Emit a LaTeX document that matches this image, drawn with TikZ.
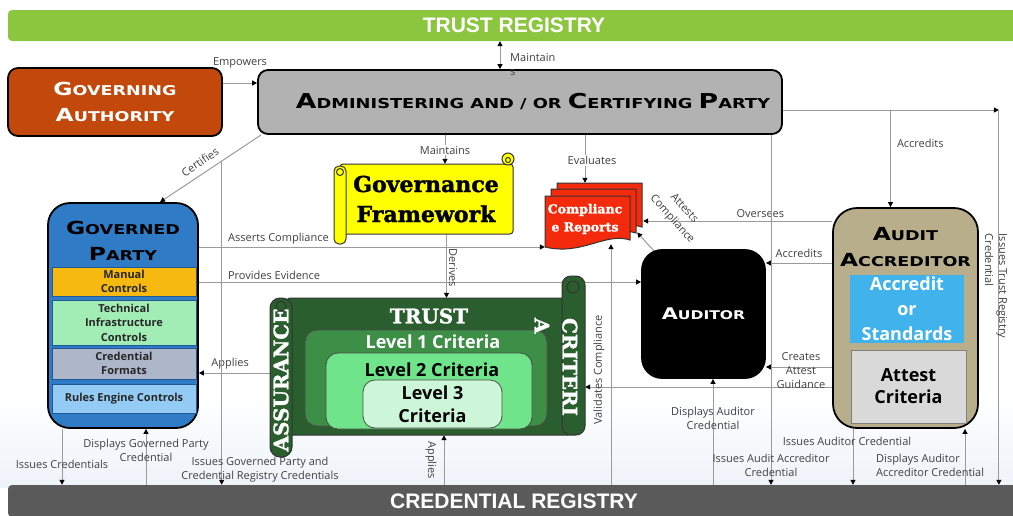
\documentclass[tikz,border=0pt]{standalone}
\usepackage{fontspec}
\setmainfont{Open Sans}
\newfontfamily\capsfont[FakeStretch=1.3]{DejaVu Sans}
\newfontfamily\heavyfont[BoldFeatures={FakeBold=1.5}]{DejaVu Serif}
\newfontfamily\barfont{Liberation Sans}
\usepackage{xcolor}
\definecolor{trustGreen}{HTML}{8CC63F}
\definecolor{credGray}{HTML}{5A5A5A}
\definecolor{govOrange}{HTML}{C2480B}
\definecolor{admGray}{HTML}{B2B2B2}
\definecolor{gpBlue}{HTML}{2F7BC5}
\definecolor{ctrlEdge}{HTML}{1F5A96}
\definecolor{manualYellow}{HTML}{F5B90F}
\definecolor{techGreen}{HTML}{A2EDB6}
\definecolor{formatGray}{HTML}{AEB6C9}
\definecolor{rulesBlue}{HTML}{93CBF4}
\definecolor{gfYellow}{HTML}{FFFF00}
\definecolor{crRed}{HTML}{F42A0C}
\definecolor{aaTan}{HTML}{B8AE8C}
\definecolor{acsBlue}{HTML}{40B3EC}
\definecolor{attGray}{HTML}{D9D9D9}
\definecolor{tfDark}{HTML}{2B5E2F}
\definecolor{lv1Green}{HTML}{3D8E47}
\definecolor{lv2Green}{HTML}{6FE48B}
\definecolor{lv3Green}{HTML}{CDF6D9}
\definecolor{lineGray}{HTML}{9A9A9A}
\definecolor{labelGray}{HTML}{404040}
\definecolor{bgBlue}{HTML}{EEF3F9}
\usepackage{tikz}
\usetikzlibrary{arrows.meta,backgrounds}
\newcommand{\bigini}[1]{{\fontsize{\inisize}{\inisize}\selectfont #1}}
\tikzset{
    bar/.style={
        rectangle,
        rounded corners=4pt,
        inner sep=0pt,
        text=white,
        font=\barfont\bfseries\fontsize{21pt}{21pt}\selectfont
    },
    titlebox/.style={
        draw=black,
        rectangle,
        rounded corners=10pt,
        line width=1.8pt,
        align=center,
        inner sep=0pt
    },
    bigsc/.style={
        align=center,
        font=\capsfont\bfseries\def\inisize{20.5pt}\fontsize{13.7pt}{16pt}\selectfont
    },
    midsc/.style={
        align=center,
        font=\capsfont\bfseries\def\inisize{18pt}\fontsize{13.5pt}{26pt}\selectfont
    },
    smallsc/.style={
        align=center,
        font=\capsfont\bfseries\def\inisize{16pt}\fontsize{12pt}{14pt}\selectfont
    },
    ctrl/.style={
        draw=ctrlEdge,
        rectangle,
        line width=0.8pt,
        minimum width=144pt,
        inner sep=0pt,
        align=center,
        text=black!85,
        font=\bfseries\fontsize{11pt}{14.5pt}\selectfont
    },
    lvbox/.style={
        draw=black!70,
        rectangle,
        rounded corners=12pt,
        line width=0.8pt,
        inner sep=0pt,
        align=center
    },
    lvtext/.style={
        align=center,
        font=\bfseries\fontsize{18pt}{23pt}\selectfont
    },
    heavy/.style={
        align=center,
        font=\heavyfont\bfseries\fontsize{20pt}{28pt}\selectfont
    },
    scrolledge/.style={
        draw=black!80,
        line width=1pt
    },
    inv/.style={
        rectangle,
        inner sep=0pt
    },
    conn/.style={
        ->,
        >={Triangle[length=5pt,width=5pt,color=black]},
        draw=lineGray,
        line width=1pt
    },
    lbl/.style={
        font=\fontsize{11pt}{14pt}\selectfont,
        text=labelGray,
        inner sep=1pt,
        align=center
    }
}

\begin{document}
\begin{tikzpicture}[x=1pt,y=-1pt]
    \useasboundingbox (0,0) rectangle (1013,515);

    % Registries
    \node[bar, fill=trustGreen, minimum width=1012pt, minimum height=31pt] (tr) at (514,25.5) {TRUST REGISTRY};
    \node[bar, fill=credGray, minimum width=1012pt, minimum height=32pt] (cred) at (514,501) {CREDENTIAL REGISTRY};

    % Authorities
    \node[titlebox, midsc, fill=govOrange, text=white, minimum width=214pt, minimum height=68pt] (gov) at (115,102) {\bigini{G}OVERNING\\\bigini{A}UTHORITY};
    \node[titlebox, bigsc, fill=admGray, minimum width=524pt, minimum height=64pt] (adm) at (520,102) {\hspace*{26pt}\bigini{A}DMINISTERING AND / OR \bigini{C}ERTIFYING \bigini{P}ARTY};

    % Governed party
    \node[titlebox, fill=gpBlue, rounded corners=22pt, minimum width=150pt, minimum height=225pt] (gp) at (123,315.5) {};
    \node[midsc] (gptitle) at (123,241) {\bigini{G}OVERNED\\\bigini{P}ARTY};
    \node[ctrl, fill=manualYellow, minimum height=29pt] (manual) at (124,281.5) {Manual\\Controls};
    \node[ctrl, fill=techGreen, minimum height=45pt] (tech) at (124,322.5) {Technical\\Infrastructure\\Controls};
    \node[ctrl, fill=formatGray, minimum height=31pt] (formats) at (124,363.5) {Credential\\Formats};
    \node[ctrl, fill=rulesBlue, minimum height=29pt] (rules) at (124,398.5) {Rules Engine Controls};

    % Governance framework scroll
    \draw[scrolledge, fill=gfYellow, rounded corners=3pt] (340,164) rectangle (513,234);
    \draw[scrolledge, fill=gfYellow] (508,159) circle (6pt);
    \draw[scrolledge] (508,160) circle (2.5pt);
    \draw[scrolledge, fill=gfYellow, rounded corners=5pt] (334,166) rectangle (346,244);
    \draw[scrolledge] (340,172) circle (3.5pt);
    \node[inv, minimum width=179pt, minimum height=70pt, align=center, font=\heavyfont\bfseries\fontsize{22pt}{30pt}\selectfont] (gf) at (426,199) {Governance\\Framework};

    % Compliance reports
    \foreach \dx/\dy in {12/-13,6/-7,0/0}
        \draw[scrolledge, fill=crRed, shift={(\dx,\dy)}] (545,196) -- (630,196) -- (630,240)
            .. controls (605,232) and (582,256) .. (545,247) -- cycle;
    \node[inv, minimum width=98pt, minimum height=65pt] (cr) at (594,215.5) {};
    \node[align=center, text=white, font=\heavyfont\bfseries\fontsize{12.5pt}{18pt}\selectfont] (crtext) at (585,219) {Complianc\\e Reports};

    % Auditor
    \node[titlebox, smallsc, fill=black, text=white, rounded corners=20pt, minimum width=123pt, minimum height=128pt] (aud) at (703.5,314) {\bigini{A}UDITOR};

    % Audit accreditor
    \node[titlebox, fill=aaTan, rounded corners=24pt, minimum width=145pt, minimum height=220pt] (aa) at (905.5,318) {};
    \node[midsc] (aatitle) at (905.5,247) {\bigini{A}UDIT\\\bigini{A}CCREDITOR};
    \node[inv, fill=acsBlue, text=white, minimum width=114pt, minimum height=68pt, align=center, font=\bfseries\fontsize{18pt}{25pt}\selectfont] (acs) at (907,309) {Accredit\\or\\Standards};
    \node[inv, fill=attGray, draw=gray, line width=0.8pt, minimum width=115pt, minimum height=73pt, align=center, font=\bfseries\fontsize{18pt}{22pt}\selectfont] (att) at (908.5,386.5) {Attest\\Criteria};

    % Trust assurance criteria scroll
    \draw[scrolledge, fill=tfDark, rounded corners=6pt] (285,298) rectangle (575,435);
    \draw[scrolledge, fill=tfDark, rounded corners=9pt] (562,276) rectangle (585,435);
    \draw[scrolledge] (573,287) circle (6pt);
    \draw[scrolledge, fill=tfDark, rounded corners=10pt] (270,298) rectangle (292,457);
    \draw[scrolledge] (281,306) circle (5pt);
    \node[inv, minimum width=315pt, minimum height=137pt] (tf) at (427.5,366.5) {};
    \node[lvbox, fill=lv1Green, minimum width=242pt, minimum height=96pt] (lv1) at (426,378) {};
    \node[lvbox, fill=lv2Green, minimum width=206pt, minimum height=76pt] (lv2) at (429,391) {};
    \node[lvbox, lvtext, fill=lv3Green, minimum width=139pt, minimum height=48pt] (lv3) at (432.5,404) {Level 3\\Criteria};
    \node[lvtext, text=white] (lv1label) at (433,342) {Level 1 Criteria};
    \node[lvtext] (lv2label) at (432,370) {Level 2 Criteria};
    \node[heavy, text=white] (tftrust) at (429,316) {TRUST};
    \node[heavy, text=white, rotate=90] (tfassur) at (281,380) {ASSURANCE};
    \node[heavy, text=white, rotate=-90, align=left] (tfcrit) at (556,367) {CRITERI\\A};

    \begin{scope}[on background layer]
        \shade[top color=white, bottom color=bgBlue] (0,395) rectangle (1013,487);

        % Top links
        \draw[conn, <->] ([xshift=-20]adm.north) -- ([xshift=-20]adm.north |- tr.south);
        \draw[conn] ([yshift=19]gov.east) -- ([yshift=19]adm.west)
            node[lbl, midway, above=13pt] (lemp) {Empowers};
        \draw[conn] ([xshift=4]adm.south west) -- ([xshift=37]gp.north) coordinate[pos=0.39] (cbranch);
        \draw[conn] ([xshift=-75]adm.south) -- ([xshift=-75]adm.south |- gf.north)
            node[lbl, fill=white, pos=0.53] (lmaints) {Maintains};
        \draw[conn] ([xshift=65]adm.south) -- ([xshift=65]adm.south |- cr.north)
            node[lbl, fill=white, pos=0.53, xshift=7pt] (leval) {Evaluates};
        \draw[conn] ([yshift=-8]adm.east) -- ++(216,0) coordinate (trc);
        \draw[conn] (trc) -- (trc |- cred.north);
        \draw[conn] ([xshift=-15]aa.north |- trc) -- ([xshift=-15]aa.north)
            node[lbl, pos=0.34, anchor=west, xshift=5pt] (lacc1) {Accredits};

        % Middle links
        \draw[conn] ([yshift=68.5]gp.east) -- ([yshift=68.5]gp.east -| cr.west)
            node[lbl, pos=0.23, above=1pt] (lassert) {Asserts Compliance};
        \draw[conn] ([yshift=33.5]gp.east) -- ([yshift=33.5]gp.east -| aud.west)
            node[lbl, pos=0.17, above=1pt] (lprov) {Provides Evidence};
        \draw[conn] ([xshift=20.5]gf.south) -- ([xshift=20.5]gf.south |- tf.north);
        \draw[conn] ([yshift=-6.5]tf.west) -- ([yshift=-6.5]tf.west -| gp.east)
            node[lbl, pos=0.56, above=2pt] (lapp1) {Applies};
        \draw[conn] ([yshift=97]aa.west) -- ([yshift=97]aa.west -| cr.east)
            node[lbl, pos=0.38, above=2pt] (lover) {Oversees};
        \draw[conn] ([yshift=55]aa.west) -- ([yshift=55]aa.west -| aud.east)
            node[lbl, pos=0.5, above=4pt] (lacc2) {Accredits};
        \draw[conn] ([yshift=19.5]att.west) -- ([yshift=19.5]att.west -| aud.east);
        \draw[conn] ([yshift=-0.5]att.west) -- ([yshift=-0.5]att.west -| tf.east);
        \draw[conn] ([xshift=13,yshift=-2]aud.north west) -- ([xshift=-6,yshift=-17]cr.east);

        % Credential registry links
        \draw[conn] (cbranch) -- (cbranch |- cred.north);
        \draw[conn] ([xshift=-61]gp.south) -- ([xshift=-61]gp.south |- cred.north);
        \draw[conn] ([xshift=23]gp.south |- cred.north) -- ([xshift=23]gp.south);
        \draw[conn] ([xshift=16.5]tf.south |- cred.north) -- ([xshift=16.5]tf.south);
        \draw[conn] ([xshift=17]cr.south |- cred.north) -- ([xshift=17,yshift=4]cr.south);
        \draw[conn] ([xshift=9.5]aud.south |- cred.north) -- ([xshift=9.5]aud.south);
        \draw[conn] ([xshift=251]adm.south) -- ([xshift=251]adm.south |- cred.north);
        \draw[conn] ([xshift=-52.5]aa.south) -- ([xshift=-52.5]aa.south |- cred.north);
        \draw[conn] ([xshift=59.5]aa.south |- cred.north) -- ([xshift=59.5]aa.south);
    \end{scope}

    % Free labels
    \node[lbl, align=left, anchor=west] (lmaint) at (509,65) {Maintain\\s};
    \node[lbl, rotate=34] (lcert) at (200,162) {Certifies};
    \node[lbl, rotate=-90] (lder) at (453,268) {Derives};
    \node[lbl, rotate=-90] (lapp2) at (431,460) {Applies};
    \node[lbl, rotate=90] (lval) at (599,370) {Validates Compliance};
    \node[lbl, rotate=-48, font=\fontsize{11pt}{16pt}\selectfont] (lattest) at (678,214) {Attests\\Compliance};
    \node[lbl] (lcreate) at (801,371) {Creates\\Attest\\Guidance};
    \node[lbl, rotate=-90, align=left] (listr) at (996,286) {Issues Trust Registry\\Credential};
    \node[lbl] (lisscred) at (62,464) {Issues Credentials};
    \node[lbl] (ldispgp) at (146,450) {Displays Governed Party\\Credential};
    \node[lbl] (lissgp) at (260,470) {Issues Governed Party and\\Credential Registry Credentials};
    \node[lbl] (ldispaud) at (713,418) {Displays Auditor\\Credential};
    \node[lbl] (lissaa) at (771,465) {Issues Audit Accreditor\\Credential};
    \node[lbl] (lissaud) at (847,441) {Issues Auditor Credential};
    \node[lbl, align=left, anchor=west] (ldispaa) at (875,465) {Displays Auditor\\Accreditor Credential};
\end{tikzpicture}
\end{document}
